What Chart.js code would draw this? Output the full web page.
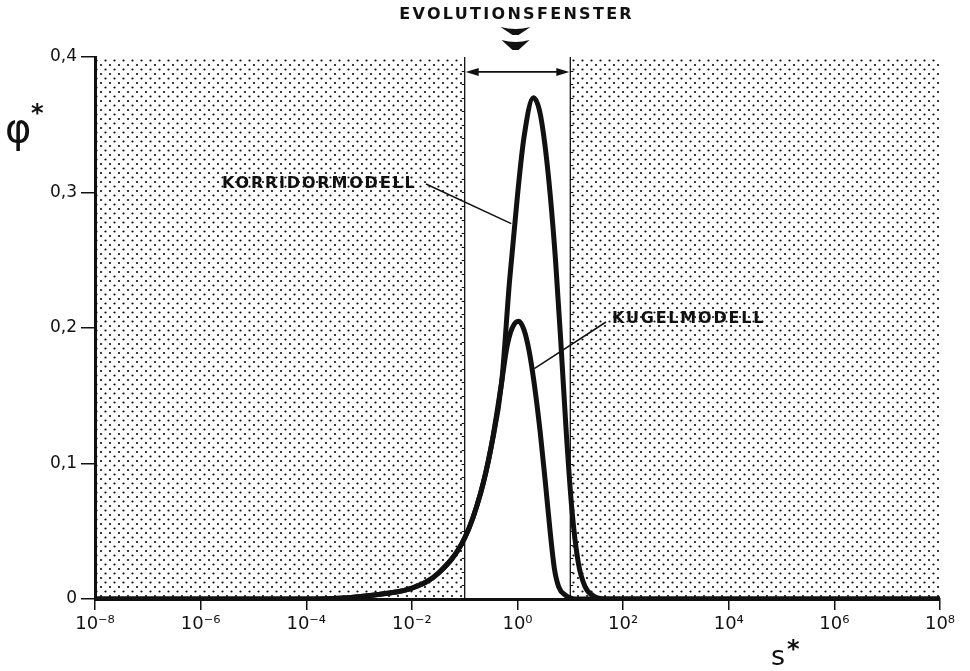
<!DOCTYPE html>
<html>
<head>
<meta charset="utf-8">
<script src="https://cdn.jsdelivr.net/npm/chart.js@4.4.1/dist/chart.umd.min.js"></script>
<style>
  html, body { margin: 0; padding: 0; background: #fff; }
  canvas { display: block; }
</style>
</head>
<body>
<canvas id="phiChart" width="970" height="671"></canvas>
<script>
// exponents of s* (log10) and phi* values
var korridorExp = [-8, -4, -3.2, -2.5, -2.0, -1.5, -1.0, -0.7, -0.5, -0.3, -0.15, 0.0, 0.12, 0.30, 0.42, 0.52, 0.62, 0.72, 0.82, 0.92, 1.03, 1.15, 1.28, 1.45, 1.7, 8];
var korridorPhi = [0, 0, 0.001, 0.004, 0.008, 0.019, 0.045, 0.078, 0.112, 0.160, 0.235, 0.298, 0.340, 0.370, 0.360, 0.335, 0.298, 0.250, 0.190, 0.125, 0.066, 0.027, 0.009, 0.002, 0, 0];

var kugelExp = [-8, -4, -3.2, -2.5, -2.0, -1.5, -1.0, -0.7, -0.5, -0.3, -0.2, -0.1, 0.02, 0.12, 0.22, 0.32, 0.43, 0.53, 0.62, 0.70, 0.78, 0.90, 1.1, 8];
var kugelPhi = [0, 0, 0.001, 0.004, 0.008, 0.019, 0.045, 0.078, 0.112, 0.160, 0.186, 0.200, 0.205, 0.199, 0.183, 0.158, 0.123, 0.085, 0.049, 0.022, 0.009, 0.003, 0, 0];

// evolution window and shaded ranges (s*)
var windowS = [1e-1, 1e1];
var shadedLeft = [1e-8, 1e-1];
var shadedRight = [1e1, 1e8];
var phiMax = 0.4;

var xTickValues = [1e-8, 1e-6, 1e-4, 1e-2, 1, 1e2, 1e4, 1e6, 1e8];
var xTickLabels = ['10⁻⁸', '10⁻⁶', '10⁻⁴', '10⁻²', '10⁰', '10²', '10⁴', '10⁶', '10⁸'];
var yTickValues = [0, 0.1, 0.2, 0.3, 0.4];
var yTickLabels = ['0', '0,1', '0,2', '0,3', '0,4'];

var ink = '#111';
var font = '"DejaVu Sans", "Liberation Sans", sans-serif';

function toPoints(exps, vals) {
    return exps.map(function (e, i) { return { x: Math.pow(10, e), y: vals[i] }; });
}

// dotted screen used for the shaded areas
function dotPattern(ctx) {
    var c = document.createElement('canvas');
    c.width = 9; c.height = 9;
    var g = c.getContext('2d');
    g.fillStyle = '#0d0d0d';
    [[2, 2], [6.5, 6.5]].forEach(function (p) {
        g.beginPath();
        g.arc(p[0], p[1], 1.1, 0, Math.PI * 2);
        g.fill();
    });
    return ctx.createPattern(c, 'repeat');
}

var annotations = {
    id: 'annotations',
    afterDatasetsDraw: function (chart) {
        var ctx = chart.ctx;
        var xs = chart.scales.x, ys = chart.scales.y;
        var xl = xs.getPixelForValue(windowS[0]);
        var xr = xs.getPixelForValue(windowS[1]);
        ctx.save();
        ctx.strokeStyle = ink;
        ctx.fillStyle = ink;

        // small ticks on the window boundaries
        ctx.lineWidth = 1;
        for (var v = 0.01; v < phiMax; v += 0.01) {
            var py = Math.round(ys.getPixelForValue(v)) + 0.5;
            ctx.beginPath();
            ctx.moveTo(xl - 3, py); ctx.lineTo(xl, py);
            ctx.moveTo(xr, py); ctx.lineTo(xr + 3, py);
            ctx.stroke();
        }

        // double arrow across the window
        var ay = ys.getPixelForValue(0.389);
        ctx.lineWidth = 1.6;
        ctx.beginPath();
        ctx.moveTo(xl + 6, ay); ctx.lineTo(xr - 6, ay);
        ctx.stroke();
        ctx.beginPath();
        ctx.moveTo(xl + 1, ay); ctx.lineTo(xl + 14, ay - 4); ctx.lineTo(xl + 14, ay + 4); ctx.closePath();
        ctx.moveTo(xr - 1, ay); ctx.lineTo(xr - 14, ay - 4); ctx.lineTo(xr - 14, ay + 4); ctx.closePath();
        ctx.fill();

        // heading with the two arrowheads
        var cx = xs.getPixelForValue(1) - 2;
        ctx.font = 'bold 16px ' + font;
        ctx.letterSpacing = '2.3px';
        ctx.textBaseline = 'middle';
        ctx.textAlign = 'left';
        var t = 'EVOLUTIONSFENSTER';
        var w = ctx.measureText(t).width - 2.3;
        ctx.fillText(t, cx - w / 2, 15);
        ctx.beginPath();
        ctx.moveTo(cx - 15, 27); ctx.quadraticCurveTo(cx, 31, cx + 15, 27); ctx.lineTo(cx + 3, 35); ctx.lineTo(cx - 3, 35); ctx.closePath();
        ctx.moveTo(cx - 14, 40); ctx.quadraticCurveTo(cx, 44, cx + 14, 40); ctx.lineTo(cx + 3, 50); ctx.lineTo(cx - 3, 50); ctx.closePath();
        ctx.fill();

        // curve labels with leader lines
        ctx.font = 'bold 16px ' + font;
        ctx.letterSpacing = '1.8px';
        ctx.fillText('KORRIDORMODELL', 222, 184);
        ctx.fillText('KUGELMODELL', 612, 319);
        ctx.letterSpacing = '0px';
        ctx.lineWidth = 1.5;
        ctx.beginPath();
        ctx.moveTo(426, 184);
        ctx.lineTo(xs.getPixelForValue(Math.pow(10, -0.08)) - 2, ys.getPixelForValue(0.277));
        ctx.moveTo(606, 322);
        ctx.lineTo(xs.getPixelForValue(Math.pow(10, 0.28)) + 2, ys.getPixelForValue(0.170));
        ctx.stroke();

        // axis titles
        ctx.textBaseline = 'alphabetic';
        ctx.font = '40px ' + font;
        ctx.fillText('φ', 5, 142);
        ctx.font = 'bold 24px ' + font;
        ctx.fillText('*', 31, 121);
        ctx.font = '27px ' + font;
        ctx.fillText('s', 771, 665);
        ctx.font = 'bold 24px ' + font;
        ctx.fillText('*', 787, 657);
        ctx.restore();
    }
};

var canvas = document.getElementById('phiChart');
var ctx = canvas.getContext('2d');
var dots = dotPattern(ctx);

var lineStyle = {
    borderColor: ink,
    pointRadius: 0,
    fill: false
};

var chart = new Chart(ctx, {
    type: 'line',
    data: {
        datasets: [
            Object.assign({ label: 'Korridormodell', data: toPoints(korridorExp, korridorPhi), borderWidth: 5, cubicInterpolationMode: 'monotone', order: 0 }, lineStyle),
            Object.assign({ label: 'Kugelmodell', data: toPoints(kugelExp, kugelPhi), borderWidth: 5, cubicInterpolationMode: 'monotone', order: 0 }, lineStyle),
            Object.assign({ label: 'window left', data: [{ x: windowS[0], y: 0 }, { x: windowS[0], y: phiMax }], borderWidth: 1.3, order: 1 }, lineStyle),
            Object.assign({ label: 'window right', data: [{ x: windowS[1], y: 0 }, { x: windowS[1], y: phiMax }], borderWidth: 1.3, order: 1 }, lineStyle),
            { label: 'shaded left', data: [{ x: shadedLeft[0], y: phiMax }, { x: shadedLeft[1], y: phiMax }], fill: 'origin', backgroundColor: dots, borderWidth: 0, pointRadius: 0, order: 2 },
            { label: 'shaded right', data: [{ x: shadedRight[0], y: phiMax }, { x: shadedRight[1], y: phiMax }], fill: 'origin', backgroundColor: dots, borderWidth: 0, pointRadius: 0, order: 2 }
        ]
    },
    options: {
        responsive: false,
        animation: false,
        devicePixelRatio: 1,
        layout: { padding: { left: 0, right: 30, top: 57, bottom: 0 } },
        plugins: { legend: { display: false }, tooltip: { enabled: false } },
        scales: {
            x: {
                type: 'logarithmic',
                min: 1e-8,
                max: 1e8,
                afterBuildTicks: function (s) { s.ticks = xTickValues.map(function (v) { return { value: v }; }); },
                afterFit: function (s) { s.height = 72; },
                ticks: {
                    autoSkip: false,
                    maxRotation: 0,
                    padding: 4,
                    color: ink,
                    font: { family: font, size: 18 },
                    callback: function (v, i) { return xTickLabels[i]; }
                },
                grid: { drawOnChartArea: false, drawTicks: true, tickLength: 11, color: ink, lineWidth: 1.5 },
                border: { display: true, color: ink, width: 3 }
            },
            y: {
                min: 0,
                max: phiMax,
                afterBuildTicks: function (s) { s.ticks = yTickValues.map(function (v) { return { value: v }; }); },
                afterFit: function (s) { s.width = 95; },
                ticks: {
                    padding: 4,
                    color: ink,
                    font: { family: font, size: 17 },
                    callback: function (v, i) { return yTickLabels[i]; }
                },
                grid: { drawOnChartArea: false, drawTicks: true, tickLength: 14, color: ink, lineWidth: 1.5 },
                border: { display: true, color: ink, width: 3 }
            }
        }
    },
    plugins: [annotations]
});
</script>
</body>
</html>
